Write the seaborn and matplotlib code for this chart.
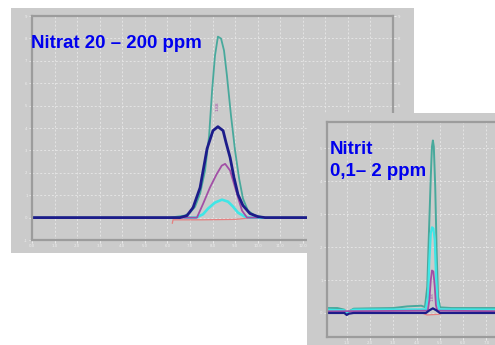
import matplotlib
matplotlib.use("Agg")
import matplotlib.pyplot as plt
import seaborn as sns
import pandas as pd

# ---------------- data ----------------
# Panel 1: Nitrat 20 - 200 ppm  (x: retention axis units, y: signal units)
n_teal_x = [0.0, 5.0, 6.12, 6.78, 7.00, 7.23, 7.45, 7.67, 7.85, 7.98, 8.11, 8.24, 8.38, 8.51, 8.64, 8.82, 9.00, 9.18, 9.35, 9.57, 9.88, 10.33, 12.0, 16.0]
n_teal_y = [0.0, 0.0, 0.0, 0.09, 0.22, 0.49, 1.07, 2.10, 3.66, 5.65, 7.23, 8.08, 7.99, 7.46, 6.34, 4.55, 2.99, 1.74, 0.85, 0.31, 0.09, 0.0, 0.0, 0.0]

n_navy_x = [0.0, 5.0, 6.56, 6.87, 7.14, 7.45, 7.76, 8.02, 8.24, 8.47, 8.60, 8.78, 8.95, 9.13, 9.35, 9.66, 10.02, 10.33, 12.0, 16.0]
n_navy_y = [0.0, 0.0, 0.0, 0.09, 0.45, 1.34, 3.08, 3.88, 4.06, 3.88, 3.35, 2.68, 1.80, 1.03, 0.54, 0.18, 0.04, 0.0, 0.0, 0.0]

n_purple_x = [6.5, 7.31, 7.58, 7.89, 8.19, 8.41, 8.56, 8.78, 9.00, 9.13, 9.31, 9.53, 10.0]
n_purple_y = [0.0, 0.0, 0.61, 1.35, 1.95, 2.32, 2.40, 2.10, 1.35, 0.90, 0.31, 0.0, 0.0]

n_cyan_x = [6.8, 7.27, 7.58, 7.80, 8.11, 8.42, 8.69, 8.91, 9.13, 9.44, 9.66, 10.2]
n_cyan_y = [0.0, 0.0, 0.15, 0.40, 0.67, 0.80, 0.71, 0.49, 0.22, 0.04, 0.0, 0.0]

n_red_x = [6.22, 6.25, 6.35, 7.5, 9.0, 9.6, 10.0]
n_red_y = [-0.25, -0.10, -0.10, -0.10, -0.08, -0.02, 0.0]

# Panel 2: Nitrit 0,1 - 2 ppm
t_teal_x = [0.15, 0.60, 0.90, 1.00, 1.10, 1.30, 2.00, 3.00, 3.60, 4.20, 4.36, 4.46, 4.53, 4.61, 4.66, 4.70, 4.74, 4.80, 4.86, 4.92, 5.01, 5.50, 8.0]
t_teal_y = [0.15, 0.15, 0.10, -0.02, 0.05, 0.13, 0.14, 0.15, 0.20, 0.22, 0.18, 0.80, 2.42, 4.14, 5.05, 5.24, 5.05, 3.84, 1.91, 0.49, 0.17, 0.15, 0.15]

t_cyan_x = [0.15, 0.90, 1.00, 1.10, 1.30, 4.40, 4.49, 4.55, 4.61, 4.66, 4.72, 4.78, 4.83, 4.89, 4.97, 8.0]
t_cyan_y = [0.10, 0.08, -0.03, 0.05, 0.10, 0.11, 0.50, 1.61, 2.42, 2.60, 2.57, 2.22, 1.21, 0.40, 0.11, 0.10]

t_purple_x = [0.15, 4.48, 4.55, 4.61, 4.66, 4.72, 4.78, 4.83, 4.89, 8.0]
t_purple_y = [0.05, 0.07, 0.40, 1.00, 1.29, 1.26, 0.80, 0.24, 0.07, 0.05]

t_navy_x = [0.15, 0.90, 1.00, 1.10, 1.30, 4.40, 4.55, 4.70, 4.85, 5.00, 8.0]
t_navy_y = [0.0, 0.0, -0.06, -0.02, 0.0, 0.0, 0.08, 0.14, 0.08, 0.0, 0.0]

t_red_x = [4.30, 4.45, 4.70, 4.95, 5.10]
t_red_y = [-0.02, -0.06, -0.05, -0.04, -0.01]

n_xticks = list(range(0, 17))
n_yticks = list(range(-1, 10))
t_xticks = list(range(1, 8))
t_yticks = list(range(0, 6))

title1 = "Nitrat 20 \u2013 200 ppm"
title2 = ["Nitrit", "0,1\u2013 2 ppm"]
marker_label = "1.88"

# ---------------- style ----------------
GREY = "#cbcbcb"
FRAME = "#9c9c9c"
GRID = "#e4e4e4"
TICKTXT = "#eeeeee"
C_TEAL = "#48a99c"
C_NAVY = "#1c1c8a"
C_PURPLE = "#a24fa6"
C_CYAN = "#3fe6e6"
C_RED = "#e58080"
BLUE = "#0000ee"

W, H = 495, 345
fig = plt.figure(figsize=(W / 100, H / 100), dpi=100)
fig.patch.set_facecolor("white")


def rect(x0, y0, x1, y1):
    return [x0 / W, 1 - y1 / H, (x1 - x0) / W, (y1 - y0) / H]


def background(r, z):
    b = fig.add_axes(r, zorder=z)
    b.set_facecolor(GREY)
    b.set_xticks([])
    b.set_yticks([])
    for s in b.spines.values():
        s.set_visible(False)
    return b


def style_axes(ax, right_labels):
    ax.set_facecolor(GREY)
    for s in ax.spines.values():
        s.set_color(FRAME)
        s.set_linewidth(1.6)
    ax.grid(True, color=GRID, linestyle=(0, (2, 2)), linewidth=0.7)
    ax.set_axisbelow(True)
    ax.tick_params(axis="both", labelsize=2.8, labelcolor=TICKTXT, color="#f2f2f2",
                   length=2, width=0.6, pad=1.2)
    ax.tick_params(axis="y", right=right_labels, labelright=right_labels)
    ax.set_xlabel("")
    ax.set_ylabel("")


def draw(ax, x, y, color, lw):
    df = pd.DataFrame({"x": x, "y": y})
    sns.lineplot(data=df, x="x", y="y", ax=ax, color=color, linewidth=lw,
                 sort=False, estimator=None, legend=False)


# ---------------- panel 1 ----------------
background(rect(11, 8, 414, 253), 0)
ax1 = fig.add_axes(rect(32, 16, 393, 240), zorder=1)
draw(ax1, n_red_x, n_red_y, C_RED, 0.9)
draw(ax1, n_teal_x, n_teal_y, C_TEAL, 1.3)
draw(ax1, n_cyan_x, n_cyan_y, C_CYAN, 1.9)
draw(ax1, n_purple_x, n_purple_y, C_PURPLE, 1.3)
draw(ax1, n_navy_x, n_navy_y, C_NAVY, 2.0)
ax1.set_xlim(0, 16)
ax1.set_ylim(-1, 9)
ax1.set_xticks(n_xticks)
ax1.set_xticklabels([f"{v:.1f}" for v in n_xticks])
ax1.set_yticks(n_yticks)
ax1.set_yticklabels([f"{v:.0f}" for v in n_yticks])
style_axes(ax1, True)
# labels that lie under panel 2 are hidden by it
for t in ax1.yaxis.get_major_ticks():
    if t.get_loc() < 5:
        t.label2.set_visible(False)
        t.tick2line.set_visible(False)
for t in ax1.xaxis.get_major_ticks():
    if t.get_loc() > 12.5:
        t.label1.set_visible(False)
        t.tick1line.set_visible(False)
ax1.text(8.24, 4.75, marker_label, rotation=90, fontsize=3.2, color=C_PURPLE,
         ha="center", va="bottom")
fig.text(31 / W, 1 - 47.5 / H, title1, fontsize=13.4, fontweight="bold", color=BLUE,
         family=["Liberation Sans", "DejaVu Sans"], va="baseline", ha="left", zorder=5)

# ---------------- panel 2 ----------------
background(rect(307, 113, 500, 350), 2)
ax2 = fig.add_axes(rect(327, 122, 510, 337), zorder=3)
draw(ax2, t_red_x, t_red_y, C_RED, 0.9)
draw(ax2, t_teal_x, t_teal_y, C_TEAL, 1.4)
draw(ax2, t_cyan_x, t_cyan_y, C_CYAN, 1.6)
draw(ax2, t_purple_x, t_purple_y, C_PURPLE, 1.3)
draw(ax2, t_navy_x, t_navy_y, C_NAVY, 1.6)
ax2.set_xlim(0.155, 8.01)
ax2.set_ylim(-0.73, 5.8)
ax2.set_xticks(t_xticks)
ax2.set_xticklabels([f"{v:.1f}" for v in t_xticks])
ax2.set_yticks(t_yticks)
ax2.set_yticklabels([f"{v:.0f}" for v in t_yticks])
style_axes(ax2, False)
ax2.tick_params(axis="x", pad=0.8)
ax2.text(4.70, 0.35, marker_label, rotation=90, fontsize=2.8, color=C_PURPLE,
         ha="center", va="bottom")
for i, line in enumerate(title2):
    ax2.text(330 / W, 1 - (153.5 + 22.5 * i) / H, line, transform=fig.transFigure,
             fontsize=13.4, fontweight="bold", color=BLUE,
             family=["Liberation Sans", "DejaVu Sans"], va="baseline", ha="left")

fig.savefig("out.png", dpi=100, facecolor="white")
